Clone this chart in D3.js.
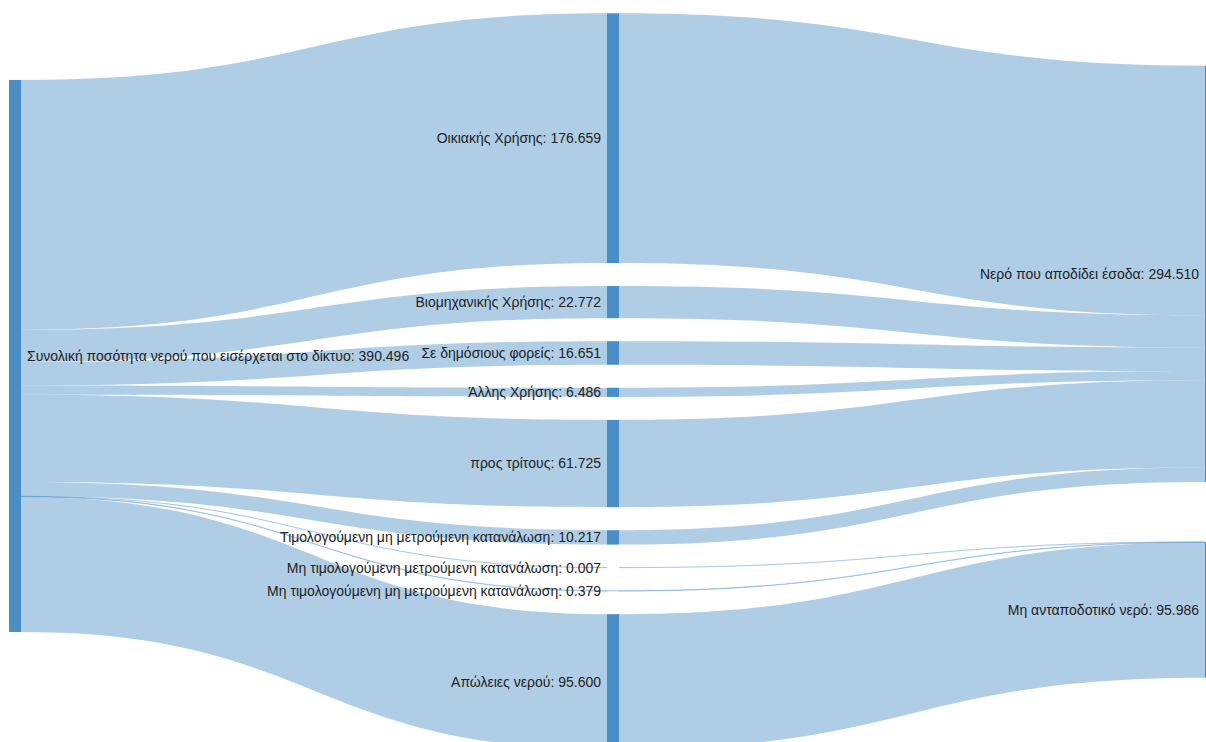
<!DOCTYPE html>
<html>
<head>
<meta charset="utf-8">
<script src="https://cdn.jsdelivr.net/npm/d3@7"></script>
<style>
  html, body { margin: 0; padding: 0; background: #ffffff; overflow: hidden; }
  svg { display: block; }
  text { font-family: "Liberation Sans", Arial, sans-serif; font-size: 14px; fill: #222222; }
</style>
</head>
<body>
<div id="chart"></div>
<script>
// ---------------- data ----------------
const nodeNames = [
  "Συνολική ποσότητα νερού που εισέρχεται στο δίκτυο",
  "Οικιακής Χρήσης",
  "Βιομηχανικής Χρήσης",
  "Σε δημόσιους φορείς",
  "Άλλης Χρήσης",
  "προς τρίτους",
  "Τιμολογούμενη μη μετρούμενη κατανάλωση",
  "Μη τιμολογούμενη μετρούμενη κατανάλωση",
  "Μη τιμολογούμενη μη μετρούμενη κατανάλωση",
  "Απώλειες νερού",
  "Νερό που αποδίδει έσοδα",
  "Μη ανταποδοτικό νερό"
];
const linkSources = [0, 0, 0, 0, 0, 0, 0, 0, 0, 1, 2, 3, 4, 5, 6, 7, 8, 9];
const linkTargets = [1, 2, 3, 4, 5, 6, 7, 8, 9, 10, 10, 10, 10, 10, 10, 11, 11, 11];
const linkValues  = [176.659, 22.772, 16.651, 6.486, 61.725, 10.217, 0.007, 0.379, 95.600,
                     176.659, 22.772, 16.651, 6.486, 61.725, 10.217, 0.007, 0.379, 95.600];

// ---------------- layout constants ----------------
const W = 1206, H = 742;
const nodeWidth = 12, nodePaddingMax = 23, iterations = 32;
const X0 = 9, X1 = 1217, Y0 = 13.3, Y1 = 749.3;
const lastColumnPull = 0.22;   // tension of the last column towards the upstream source
const nodeColor = "#4a8ec6";
const fmt = d3.format(".3f");

const nodes = nodeNames.map((name, i) => ({ name, index: i }));
const links = linkSources.map((s, i) => ({ source: nodes[s], target: nodes[linkTargets[i]], value: linkValues[i], index: i }));

// ---------------- sankey layout (d3-sankey style, node order kept) ----------------
nodes.forEach(n => { n.sourceLinks = []; n.targetLinks = []; });
links.forEach(l => { l.source.sourceLinks.push(l); l.target.targetLinks.push(l); });
nodes.forEach(n => {
  n.value = Math.max(d3.sum(n.sourceLinks, l => l.value), d3.sum(n.targetLinks, l => l.value));
});
(function () {
  let current = new Set(nodes), next = new Set(), x = 0;
  while (current.size) {
    for (const n of current) { n.depth = x; for (const l of n.sourceLinks) next.add(l.target); }
    ++x; current = next; next = new Set();
  }
})();
const nLayers = d3.max(nodes, n => n.depth) + 1;
nodes.forEach(n => { n.layer = n.sourceLinks.length ? n.depth : nLayers - 1; });
const xScale = d3.scaleLinear().domain([0, nLayers - 1]).range([X0, X1 - nodeWidth]);
const columns = d3.range(nLayers).map(() => []);
nodes.forEach(n => { n.x0 = xScale(n.layer); n.x1 = n.x0 + nodeWidth; columns[n.layer].push(n); });

const py = Math.min(nodePaddingMax, (Y1 - Y0) / (d3.max(columns, c => c.length) - 1));
const ky = d3.min(columns, c => (Y1 - Y0 - (c.length - 1) * py) / d3.sum(c, n => n.value));
const yScale = d3.scaleLinear().domain([0, 1]).range([0, ky]);

const byTargetY = (a, b) => (a.target.y0 - b.target.y0) || (a.index - b.index);
const bySourceY = (a, b) => (a.source.y0 - b.source.y0) || (a.index - b.index);
function reorderLinks(col) { for (const n of col) { n.sourceLinks.sort(byTargetY); n.targetLinks.sort(bySourceY); } }
function reorderNodeLinks(n) {
  for (const l of n.targetLinks) l.source.sourceLinks.sort(byTargetY);
  for (const l of n.sourceLinks) l.target.targetLinks.sort(bySourceY);
}
for (const col of columns) {
  let y = Y0;
  for (const n of col) {
    n.y0 = y; n.y1 = y + yScale(n.value); y = n.y1 + py;
    for (const l of n.sourceLinks) l.width = yScale(l.value);
  }
  y = (Y1 - y + py) / (col.length + 1);
  col.forEach((n, i) => { n.y0 += y * (i + 1); n.y1 += y * (i + 1); });
  reorderLinks(col);
}
function targetTop(source, target) {
  let y = source.y0 - (source.sourceLinks.length - 1) * py / 2;
  for (const l of source.sourceLinks) { if (l.target === target) break; y += l.width + py; }
  for (const l of target.targetLinks) { if (l.source === source) break; y -= l.width; }
  return y;
}
function sourceTop(source, target) {
  let y = target.y0 - (target.targetLinks.length - 1) * py / 2;
  for (const l of target.targetLinks) { if (l.source === source) break; y += l.width + py; }
  for (const l of source.sourceLinks) { if (l.target === target) break; y -= l.width; }
  return y;
}
function collideDown(col, y, i, a) {
  for (; i < col.length; ++i) { const n = col[i]; const d = (y - n.y0) * a; if (d > 1e-6) { n.y0 += d; n.y1 += d; } y = n.y1 + py; }
}
function collideUp(col, y, i, a) {
  for (; i >= 0; --i) { const n = col[i]; const d = (n.y1 - y) * a; if (d > 1e-6) { n.y0 -= d; n.y1 -= d; } y = n.y0 - py; }
}
function resolveCollisions(col, a) {
  const i = col.length >> 1, s = col[i];
  collideUp(col, s.y0 - py, i - 1, a);
  collideDown(col, s.y1 + py, i + 1, a);
  collideUp(col, Y1, col.length - 1, a);
  collideDown(col, Y0, 0, a);
}
function relaxLeftToRight(alpha, beta) {
  for (let i = 1; i < columns.length; ++i) {
    for (const t of columns[i]) {
      let y = 0, w = 0;
      for (const l of t.targetLinks) { const v = l.value * (t.layer - l.source.layer); y += targetTop(l.source, t) * v; w += v; }
      if (!(w > 0)) continue;
      const d = (y / w - t.y0) * alpha; t.y0 += d; t.y1 += d; reorderNodeLinks(t);
    }
    resolveCollisions(columns[i], beta);
  }
}
function relaxRightToLeft(alpha, beta) {
  for (let i = columns.length - 2; i >= 0; --i) {
    for (const s of columns[i]) {
      let y = 0, w = 0;
      for (const l of s.sourceLinks) { const v = l.value * (l.target.layer - s.layer); y += sourceTop(s, l.target) * v; w += v; }
      if (!(w > 0)) continue;
      const d = (y / w - s.y0) * alpha; s.y0 += d; s.y1 += d; reorderNodeLinks(s);
    }
    resolveCollisions(columns[i], beta);
  }
}
for (let i = 0; i < iterations; ++i) {
  const alpha = Math.pow(0.99, i);
  const beta = Math.max(1 - alpha, (i + 1) / iterations);
  relaxRightToLeft(alpha, beta);
  relaxLeftToRight(alpha, beta);
}
// final pass: last column drawn slightly towards the upstream (grand-source) centres
(function () {
  const mid = n => (n.y0 + n.y1) / 2;
  const upstream = n => d3.sum(n.targetLinks, l => mid(l.source) * l.value) / d3.sum(n.targetLinks, l => l.value);
  const last = columns[columns.length - 1];
  for (const t of last) {
    const c = d3.sum(t.targetLinks, l => {
      const s = l.source, cs = mid(s);
      const cu = s.targetLinks.length ? upstream(s) : cs;
      return (cs + (cu - cs) * lastColumnPull) * l.value;
    }) / d3.sum(t.targetLinks, l => l.value);
    const h = t.y1 - t.y0;
    t.y0 = c - h / 2; t.y1 = c + h / 2;
  }
  resolveCollisions(last, 1);
  reorderLinks(last);
})();
for (const n of nodes) {
  let y0 = n.y0, y1 = n.y0;
  for (const l of n.sourceLinks) { l.sy0 = y0; y0 += l.width; }
  for (const l of n.targetLinks) { l.ty0 = y1; y1 += l.width; }
}

// ---------------- drawing ----------------
const svg = d3.select("#chart").append("svg").attr("width", W).attr("height", H);

function linkPath(l) {
  const x0 = l.source.x1, x1 = l.target.x0;
  const xm = d3.interpolateNumber(x0, x1)(0.5);
  const s0 = l.sy0, s1 = s0 + l.width;
  const t0 = l.ty0, t1 = t0 + l.width;
  const p = d3.path();
  p.moveTo(x0, s0);
  p.bezierCurveTo(xm, s0, xm, t0, x1, t0);
  p.lineTo(x1, t1);
  p.bezierCurveTo(xm, t1, xm, s1, x0, s1);
  p.closePath();
  return p.toString();
}

svg.append("g").selectAll("path").data(links).join("path")
  .attr("d", linkPath)
  .attr("fill", nodeColor)
  .attr("fill-opacity", 0.44)
  .attr("stroke", nodeColor)
  .attr("stroke-opacity", l => l.width < 1 ? 0.35 : 0)
  .attr("stroke-width", l => l.width < 1 ? 0.8 : 0);

svg.append("g").selectAll("rect").data(nodes).join("rect")
  .attr("x", n => n.x0).attr("y", n => n.y0)
  .attr("width", n => n.x1 - n.x0).attr("height", n => n.y1 - n.y0)
  .attr("fill", nodeColor);

svg.append("g").selectAll("text").data(nodes).join("text")
  .attr("x", n => n.layer === 0 ? n.x1 + 6 : n.x0 - 6)
  .attr("y", n => (n.y0 + n.y1) / 2)
  .attr("dy", "0.35em")
  .attr("text-anchor", n => n.layer === 0 ? "start" : "end")
  .text(n => `${n.name}: ${fmt(n.value)}`);
</script>
</body>
</html>
